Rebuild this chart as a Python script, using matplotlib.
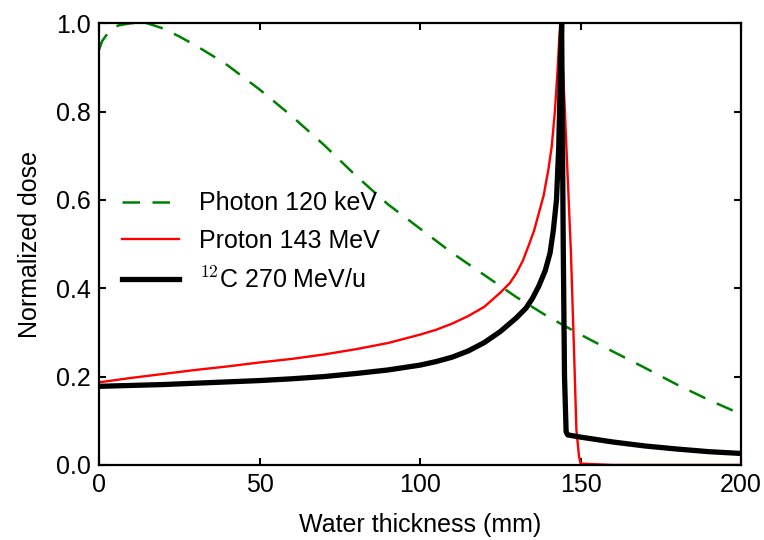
import matplotlib
matplotlib.use('Agg')
import matplotlib.pyplot as plt
import numpy as np

plt.rcParams['font.family'] = ['Liberation Sans', 'DejaVu Sans']
plt.rcParams['mathtext.fontset'] = 'cm'
plt.rcParams['font.size'] = 18

# photon 120 keV depth dose
photon_x = [0, 1, 3, 6, 10, 15, 20, 25, 30, 35, 40, 50, 60, 70, 80, 90, 100,
            110, 120, 130, 140, 150, 160, 170, 180, 190, 200]
photon_y = [0.94, 0.96, 0.98, 0.995, 1.0, 1.0, 0.988, 0.97, 0.95, 0.928, 0.905,
            0.85, 0.79, 0.725, 0.655, 0.59, 0.535, 0.48, 0.43, 0.38, 0.335,
            0.295, 0.257, 0.22, 0.182, 0.147, 0.115]

# proton 143 MeV
proton_x = [0, 10, 20, 30, 40, 50, 60, 70, 80, 90, 100, 105, 110, 115, 120, 125,
            128, 130, 132, 134, 135.5, 137, 138.5, 140, 141, 142, 142.8, 143.4,
            143.8, 145, 146, 147, 148, 148.7, 149.5, 150, 160, 200]
proton_y = [0.187, 0.197, 0.206, 0.215, 0.223, 0.232, 0.24, 0.25, 0.262, 0.276,
            0.295, 0.306, 0.32, 0.337, 0.358, 0.39, 0.412, 0.434, 0.462, 0.5,
            0.53, 0.57, 0.61, 0.67, 0.72, 0.8, 0.89, 0.97, 1.0, 0.82, 0.65,
            0.48, 0.25, 0.08, 0.02, 0.003, 0.0, 0.0]

# carbon 270 MeV/u
carbon_x = [0, 10, 20, 30, 40, 50, 60, 70, 80, 90, 100, 105, 110, 115, 120, 125,
            130, 133, 135, 137, 139, 140.5, 141.5, 142.5, 143.2, 143.7, 144.1,
            144.6, 145, 145.5, 146, 150, 160, 170, 180, 190, 200]
carbon_y = [0.178, 0.18, 0.182, 0.185, 0.188, 0.191, 0.195, 0.2, 0.207, 0.215,
            0.226, 0.234, 0.244, 0.258, 0.277, 0.302, 0.333, 0.355, 0.377, 0.405,
            0.44, 0.48, 0.53, 0.6, 0.72, 0.88, 1.0, 0.5, 0.2, 0.075, 0.068,
            0.063, 0.052, 0.043, 0.036, 0.03, 0.026]

fig = plt.figure(figsize=(7.64, 5.40), dpi=100)
ax = fig.add_axes([0.1296, 0.139, 0.8404, 0.818])

ax.plot(photon_x, photon_y, color='green', lw=1.8, dashes=[7, 5], label='Photon 120 keV')
ax.plot(proton_x, proton_y, color='red', lw=1.7, label='Proton 143 MeV')
ax.plot(carbon_x, carbon_y, color='black', lw=3.8, label=r'$^{12}$C 270 MeV/u')

ax.set_xlim(0, 200)
ax.set_ylim(0, 1.0)
ax.set_xticks([0, 50, 100, 150, 200])
ax.set_yticks([0.0, 0.2, 0.4, 0.6, 0.8, 1.0])
ax.set_yticklabels(['0.0', '0.2', '0.4', '0.6', '0.8', '1.0'])
ax.tick_params(direction='in', top=True, right=True, length=5, width=1.5, pad=6)
for s in ax.spines.values():
    s.set_linewidth(1.6)

ax.set_xlabel('Water thickness (mm)', labelpad=11)
ax.set_ylabel('Normalized dose', labelpad=10)

ax.legend(loc='center left', bbox_to_anchor=(0.0, 0.505), frameon=False,
          handlelength=2.3, handletextpad=0.8, labelspacing=0.55)

fig.savefig('out.png', dpi=100)
